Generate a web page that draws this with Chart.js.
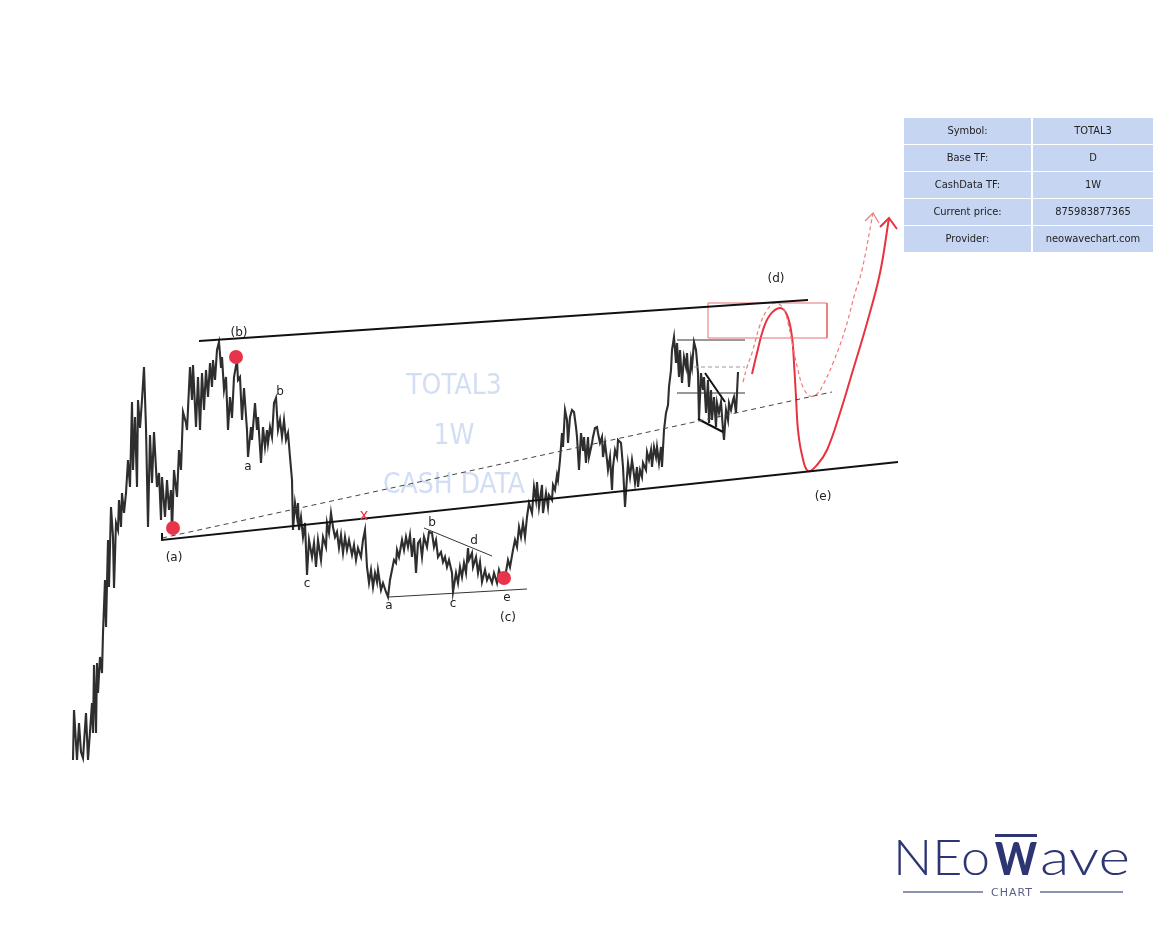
<!DOCTYPE html>
<html><head><meta charset="utf-8">
<script src="https://cdn.jsdelivr.net/npm/chart.js@4.4.1/dist/chart.umd.min.js"></script>
<style>
html,body{margin:0;padding:0;background:#fff;}
#wrap{position:relative;width:1154px;height:942px;overflow:hidden;background:#fff;}
#c{position:absolute;left:0;top:0;}
#info{position:absolute;left:904px;top:118px;display:grid;grid-template-columns:127px 120px;column-gap:2px;row-gap:1px;}
#info div{background:#c6d6f2;height:26px;font:11px "DejaVu Sans Condensed","DejaVu Sans",sans-serif;line-height:26px;text-align:center;color:#222;}
#logo{position:absolute;left:0;top:0;pointer-events:none;}
</style></head>
<body><div id="wrap">
<canvas id="c" width="1154" height="942"></canvas>
<div id="info">
<div>Symbol:</div><div>TOTAL3</div>
<div>Base TF:</div><div>D</div>
<div>CashData TF:</div><div>1W</div>
<div>Current price:</div><div>875983877365</div>
<div>Provider:</div><div>neowavechart.com</div>
</div>
<svg id="logo" width="1154" height="942" xmlns="http://www.w3.org/2000/svg">
<text x="893" y="875" font-family="Lato, 'Open Sans', sans-serif" font-weight="300" font-size="49" fill="#2d3573" textLength="97" lengthAdjust="spacingAndGlyphs">NEo</text>
<rect x="995" y="834" width="42" height="3" fill="#2d3573"/>
<text x="995" y="875" font-family="Lato, 'Open Sans', sans-serif" font-weight="900" font-size="46" fill="#2d3573" textLength="42" lengthAdjust="spacingAndGlyphs">W</text>
<text x="1040" y="875" font-family="Lato, 'Open Sans', sans-serif" font-weight="300" font-size="49" fill="#2d3573" textLength="90" lengthAdjust="spacingAndGlyphs">ave</text>
<line x1="903" y1="892" x2="983" y2="892" stroke="#8e92b4" stroke-width="2"/>
<line x1="1040" y1="892" x2="1123" y2="892" stroke="#8e92b4" stroke-width="2"/>
<text x="1012" y="896" text-anchor="middle" font-family="'DejaVu Sans', sans-serif" font-size="11" fill="#5a5e86" letter-spacing="1">CHART</text>
</svg>
</div>
<script>
// ---- price series (day index, price in billions USD) ----
const days = [0,1,4,6,8,10,13,15,19,20,21,23,24,25,27,29,30,32,33,35,36,38,40,41,43,45,46,48,49,51,53,55,57,59,60,62,64,65,67,69,71,73,75,77,79,81,84,86,88,89,92,94,96,98,99,101,104,106,108,110,113,114,117,119,120,123,125,127,129,131,133,135,137,139,140,142,144,146,148,149,151,153,155,157,159,161,164,165,167,169,171,174,175,178,179,182,184,185,188,190,192,194,195,197,199,201,203,205,207,209,211,213,215,217,219,220,222,224,225,226,228,230,232,234,236,239,241,243,245,248,250,253,254,256,258,260,262,264,266,268,270,272,274,276,279,281,283,285,288,290,292,294,296,298,300,302,304,305,308,310,313,315,317,319,321,323,324,326,329,331,333,335,337,339,341,343,345,347,349,351,354,356,359,361,363,365,368,370,372,374,376,379,380,383,385,387,389,391,393,395,396,399,400,403,405,407,409,412,414,416,419,421,424,426,429,430,433,435,437,440,442,444,446,448,450,452,454,456,459,461,463,464,466,469,470,473,475,476,479,480,482,484,485,487,489,490,492,494,495,497,499,501,503,504,506,508,510,511,513,515,516,519,520,522,524,525,527,529,530,532,534,535,537,539,540,542,544,545,548,550,551,552,554,555,557,559,560,562,564,565,567,569,570,573,574,576,578,579,581,583,584,586,588,589,591,593,595,596,598,599,601,603,604,606,607,609,611,613,614,616,618,619,621,623,625,626,628,630,631,633,635,636,638,639,641,643,644,646,648,650,651,653,655,656,658,660,661,663,665];
const price = [100,200,100,174,116,104,194,100,214,154,290,154,294,234,306,274,354,460,366,540,446,606,546,444,574,560,620,566,634,594,634,700,646,816,680,786,646,820,764,820,886,764,566,750,654,756,646,674,580,666,586,660,600,640,554,680,626,720,680,796,774,760,886,820,890,766,866,760,874,800,880,826,894,846,900,860,920,936,886,906,840,866,760,826,784,866,900,860,866,780,844,760,706,766,740,814,760,786,694,766,726,760,734,766,746,814,824,760,780,746,780,740,754,706,660,560,614,586,614,560,586,546,574,470,540,506,534,486,540,500,546,526,574,554,594,566,546,556,524,550,514,546,520,540,510,530,500,524,506,540,560,486,454,480,446,474,456,480,440,454,436,426,460,480,500,494,520,506,540,520,546,526,550,506,544,474,534,540,506,546,526,556,554,526,540,506,516,496,506,486,500,474,436,474,454,486,466,494,474,524,500,514,486,506,474,496,456,480,460,470,454,474,454,480,460,464,476,500,486,520,540,526,566,546,574,546,586,614,594,646,620,656,606,650,594,634,606,630,620,650,640,670,660,700,754,726,800,780,734,786,800,796,766,746,680,754,720,746,694,746,706,734,746,764,766,754,734,746,706,734,700,680,706,640,686,720,706,740,734,686,646,606,666,694,666,700,686,654,686,646,680,666,694,680,716,700,720,686,726,706,726,694,726,686,760,794,810,846,880,920,946,894,934,866,920,854,906,886,914,846,900,886,936,920,874,780,874,840,866,794,860,774,840,780,826,766,814,794,816,760,740,800,780,814,800,820,826,794,876];

// ---- wave markers (day, price) ----
const waveDots = [[100,564],[163,906],[431,464]];

// ---- trend lines (day, price) ----
const upperChannel = [[126,938],[735,1020]];
const lowerChannel = [[89,554],[89,540],[825,696]];
const midDashed = [[89,544],[759,836]];
const triUpper = [[351,564],[419,508]];
const triLower = [[316,426],[454,442]];
const flagTop = [[604,940],[672,940]];
const flagDash = [[621,886],[672,886]];
const flagMid = [[604,834],[672,834]];
const flagDiag = [[632,874],[652,816]];
const flagBase = [[625,782],[650,756]];
const targetBox = [[635,1014],[754,1014],[754,944],[635,944],[635,1014]];

// ---- projected paths (day, price) ----
const projMain = [[679,872],[684,914],[690,960],[697,990],[707,1004],[714,990],[719,946],[721,894],[723,826],[725,760],[729,710],[735,678],[744,690],[754,720],[767,794],[780,880],[794,974],[807,1074],[816,1184]];
const projMainHead = [[807,1166],[816,1184],[824,1162]];
const projAlt = [[670,856],[674,886],[679,914],[687,970],[694,1000],[702,1014],[710,1004],[715,974],[720,926],[725,880],[730,846],[737,828],[744,832],[750,850],[760,894],[772,960],[782,1034],[789,1080],[800,1194]];
const projAltHead = [[792,1178],[800,1194],[806,1174]];

// ---- labels (text, day, price) ----
const waveLabels = [["(b)",166,954],["b",207,836],["a",175,686],["(a)",101,504],["c",234,452],["a",316,408],["b",359,574],["c",380,412],["d",401,538],["e",434,424],["(c)",435,384],["(d)",703,1062],["(e)",750,626]];
const xMarks = [["x",291,588]];
const watermark = [["TOTAL3",381,846],["1W",381,746],["CASH DATA",381,648]];

const pts = a => a.map(p => ({x:p[0], y:p[1]}));
const line = (a, color, width, extra) => Object.assign({data:pts(a), showLine:true, borderColor:color, borderWidth:width, pointRadius:0, tension:0, order:5}, extra||{});

const textPlugin = {
  id:'texts',
  beforeDatasetsDraw(chart){
    const c = chart.ctx, sx = chart.scales.x, sy = chart.scales.y;
    c.save();
    c.font = '28px "DejaVu Sans Condensed","DejaVu Sans",sans-serif';
    c.fillStyle = '#d2def4';
    c.textAlign = 'center'; c.textBaseline = 'middle';
    watermark.forEach(w => c.fillText(w[0], sx.getPixelForValue(w[1]), sy.getPixelForValue(w[2])));
    c.restore();
  },
  afterDatasetsDraw(chart){
    const c = chart.ctx, sx = chart.scales.x, sy = chart.scales.y;
    c.save();
    c.textAlign = 'center'; c.textBaseline = 'middle';
    c.font = '12px "DejaVu Sans",sans-serif';
    c.fillStyle = '#222';
    waveLabels.forEach(w => c.fillText(w[0], sx.getPixelForValue(w[1]), sy.getPixelForValue(w[2])));
    c.font = '15px "DejaVu Sans",sans-serif';
    c.fillStyle = '#ec3b47';
    xMarks.forEach(w => c.fillText(w[0], sx.getPixelForValue(w[1]), sy.getPixelForValue(w[2])));
    c.restore();
  }
};

new Chart(document.getElementById('c'), {
  type:'scatter',
  data:{datasets:[
    {data:pts(waveDots), showLine:false, pointRadius:7, pointBackgroundColor:'#e8344a', pointBorderWidth:0, order:0},
    line(days.map((d,i)=>[d,price[i]]), '#2e2e2e', 2.1, {order:10}),
    line(upperChannel, '#111', 2),
    line(lowerChannel, '#111', 2),
    line(midDashed, '#444', 1, {borderDash:[5,4]}),
    line(triUpper, '#333', 1),
    line(triLower, '#333', 1),
    line(flagTop, '#333', 1),
    line(flagDash, '#9a9a9a', 1, {borderDash:[4,3]}),
    line(flagMid, '#333', 1),
    line(flagDiag, '#111', 2),
    line(flagBase, '#111', 2),
    line(targetBox, '#e87070', 1),
    line(projAlt, '#f07a7a', 1.2, {borderDash:[4,3], tension:0.4}),
    line(projAltHead, '#f07a7a', 1.2),
    line(projMain, '#e8323f', 2, {tension:0.4}),
    line(projMainHead, '#e8323f', 2)
  ]},
  options:{
    responsive:false, animation:false, events:[],
    layout:{padding:0, autoPadding:false},
    plugins:{legend:{display:false}, tooltip:{enabled:false}, title:{display:false}},
    scales:{
      x:{type:'linear', display:false, min:-73, max:1081},
      y:{type:'linear', display:false, min:-264, max:1620}
    }
  },
  plugins:[textPlugin]
});
</script>
</body></html>
